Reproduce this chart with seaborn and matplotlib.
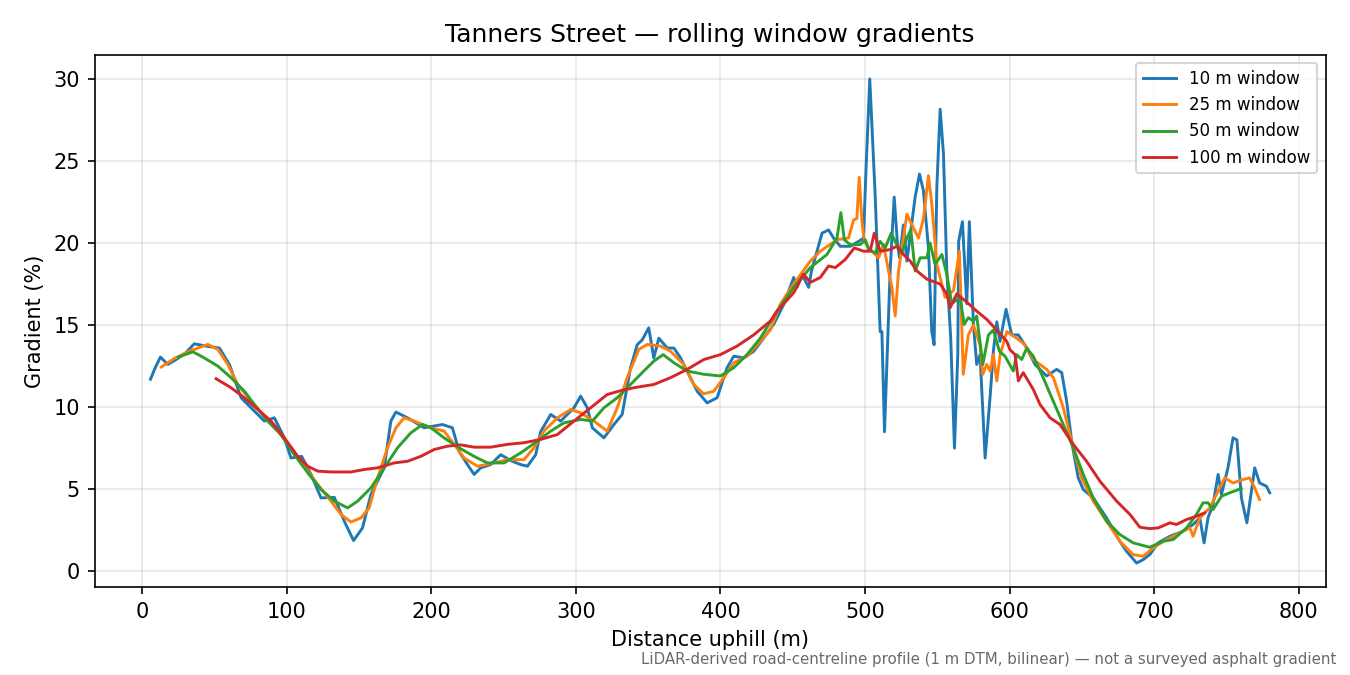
import pandas as pd
import seaborn as sns
import matplotlib.pyplot as plt

# 10 m window
d10 = [5.7, 9, 12.6, 17.7, 23.5, 30, 36, 45.4, 53.4, 60.3, 68.4, 76.5, 84.5, 91.4, 98.3,
       102.9, 110.3, 116.8, 123.7, 132.9, 139.8, 146.2, 152.4, 158.2, 167.4, 172, 175.5,
       183.5, 195, 207.7, 214.6, 219.2, 225, 229.6, 234.2, 241, 248, 256, 261.8, 266.5,
       272.2, 275.6, 282.6, 289.5, 298.7, 303.3, 307.9, 311.4, 319.4, 326.3, 332, 337.8,
       342.4, 345.9, 350.4, 353.9, 357.4, 363.2, 367.8, 372.4, 378.1, 383.9, 390.8, 397.7,
       404.6, 409.2, 416.1, 423, 429.9, 436.8, 444, 450.7, 453, 456.4, 461, 463, 470.3,
       474.8, 478.3, 482.9, 489.8, 495.6, 499, 500.5, 503.3, 507.1, 510.5, 511.7, 513.5,
       517.4, 520.2, 522.5, 523.9, 526.6, 529, 534.7, 537.7, 540.4, 543.9, 546.2, 547.8,
       549.7, 552, 554.3, 556.6, 559.3, 561.9, 564.2, 564.8, 567.4, 570.4, 572.2, 575,
       577.3, 579.6, 583.1, 586.5, 588.8, 591.2, 593.4, 597.6, 601.5, 606.1, 611.9, 617.6,
       625.7, 632.6, 636.1, 639.5, 643, 647.5, 651, 657.9, 667.1, 676.3, 680.9, 687.9,
       692.5, 697, 702.8, 710.9, 720.1, 727, 731.6, 734.6, 737.3, 740.8, 744.3, 746.6,
       751.1, 754.6, 757.3, 760.4, 764.2, 769.6, 773, 777.7, 780]
g10 = [11.7, 12.4, 13.05, 12.6, 12.9, 13.3, 13.86, 13.7, 13.6, 12.6, 10.57, 9.86, 9.15, 9.35,
       8.13, 6.9, 7.0, 5.9, 4.47, 4.5, 3.05, 1.87, 2.64, 4.68, 6.3, 9.15, 9.7, 9.35, 8.74,
       8.94, 8.74, 7.3, 6.5, 5.9, 6.3, 6.5, 7.1, 6.7, 6.5, 6.4, 7.1, 8.5, 9.55, 9.15, 9.96,
       10.67, 9.96, 8.74, 8.13, 8.94, 9.55, 12.4, 13.8, 14.1, 14.83, 13.0, 14.2, 13.6, 13.6,
       13.0, 12.0, 10.97, 10.26, 10.57, 12.4, 13.1, 13.0, 13.4, 14.2, 15.04, 16.3, 17.9,
       17.3, 18.1, 17.3, 18.3, 20.6, 20.8, 20.3, 19.8, 19.8, 20.1, 20.3, 24.0, 30.0, 22.8,
       14.6, 14.6, 8.5, 18.3, 22.8, 19.9, 19.1, 21.1, 18.9, 22.8, 24.2, 23.2, 19.7, 14.6,
       13.8, 23.4, 28.15, 25.4, 18.3, 14.2, 7.5, 13.2, 20.1, 21.3, 16.3, 21.3, 15.04, 12.6,
       13.2, 6.9, 10.57, 13.4, 15.2, 14.0, 15.96, 14.4, 14.4, 13.6, 12.6, 11.9, 12.3, 12.1,
       10.37, 7.9, 5.7, 4.98, 4.47, 3.25, 1.83, 1.22, 0.5, 0.71, 1.02, 1.73, 2.13, 2.44,
       2.85, 3.25, 1.73, 3.25, 4.07, 5.9, 4.68, 6.3, 8.13, 8.0, 4.47, 2.95, 6.3, 5.38, 5.18,
       4.78]

# 25 m window
d25 = [13.1, 22.3, 32.7, 45.4, 52.3, 59.2, 66.1, 75.3, 84.5, 93.7, 102.9, 112.1, 121.4,
       130.6, 137.5, 144.4, 151.3, 157, 162.8, 169.7, 175.5, 181.2, 188.1, 199.7, 208.8,
       215.8, 222.7, 231.9, 243.4, 252.6, 264.1, 271, 277.9, 287.2, 296.4, 303.3, 312.5,
       321.7, 328.6, 335.5, 343.6, 349.4, 358.5, 365.4, 374.6, 381.5, 388.4, 395.4, 402.3,
       409.2, 418.4, 427.6, 434.5, 441.4, 450.6, 462.2, 469.1, 480.6, 488.6, 492.1, 494.4,
       496, 497.9, 499.5, 503.6, 509.4, 512.8, 516.3, 518.6, 520.9, 523.2, 529, 533.6, 537,
       540.5, 543.9, 546.2, 549.7, 555.4, 561.2, 565.3, 568, 571.5, 575, 579.6, 581.5,
       584.2, 586.5, 588.8, 591.2, 593.5, 598.1, 604.9, 610.7, 616.4, 625.7, 630.3, 637.2,
       644.1, 649.9, 657.9, 667.1, 676.3, 685.5, 692.5, 699.3, 708.5, 717.8, 724.7, 727,
       731.6, 738.5, 744.3, 748.9, 754.6, 761.5, 766.1, 769.6, 773]
g25 = [12.44, 12.97, 13.41, 13.82, 13.52, 12.6, 11.38, 10.37, 9.45, 8.54, 7.52, 6.4, 5.29,
       4.27, 3.46, 3.0, 3.25, 3.86, 5.69, 7.52, 8.74, 9.35, 9.15, 8.74, 8.54, 7.73, 6.9, 6.4,
       6.6, 6.8, 6.8, 7.52, 8.54, 9.35, 9.86, 9.65, 9.15, 8.54, 9.96, 11.79, 13.52, 13.82,
       13.72, 13.41, 12.6, 11.38, 10.81, 10.97, 11.79, 12.7, 13.1, 14.0, 14.7, 16.26, 17.5,
       18.9, 19.5, 20.2, 20.3, 21.4, 21.5, 24.0, 21.3, 20.1, 19.6, 19.1, 19.9, 18.3, 17.3,
       15.55, 18.3, 21.75, 20.9, 20.3, 21.5, 24.1, 22.4, 18.7, 16.7, 17.1, 19.5, 12.0, 14.4,
       15.0, 13.8, 12.0, 12.6, 12.2, 13.2, 11.6, 13.2, 14.6, 14.2, 13.8, 12.9, 12.3, 11.8,
       9.96, 7.52, 5.69, 4.27, 3.05, 1.83, 1.02, 0.91, 1.42, 1.93, 2.34, 2.64, 2.13, 3.25,
       3.86, 4.88, 5.69, 5.38, 5.59, 5.69, 5.08, 4.37]

# 50 m window
d50 = [25, 35, 41.9, 52.3, 61.5, 70.7, 77.6, 86.8, 96, 105.2, 114.5, 123.7, 132.9, 142.1,
       149, 158.2, 167.4, 176.6, 185.8, 193.9, 199.7, 208.8, 219.2, 229.6, 238.8, 250.3,
       261.8, 273.4, 282.6, 291.7, 303.3, 311.4, 319.4, 328.6, 337.8, 347, 353.9, 360.4,
       367.8, 377, 388.5, 400, 409.2, 418.4, 427.6, 439.1, 450.7, 462.2, 473.7, 480.6,
       483.3, 485.7, 489.8, 496.7, 500.2, 502.5, 507.1, 510.5, 514, 518.1, 522, 525.5, 529,
       531.7, 534.7, 538.2, 542.8, 545, 548.5, 553.2, 556.6, 560, 565.8, 568.6, 571.5, 575,
       577.3, 581.5, 585.4, 588.8, 593, 596.9, 602.6, 604.9, 608.4, 611.9, 616.4, 623.3,
       630.2, 637.2, 644.1, 651, 657.9, 667.1, 676.3, 685.5, 697, 706.3, 713.2, 722.4,
       729.3, 733.9, 737.3, 740.8, 746.6, 752.3, 760.4]
g50 = [13.05, 13.37, 13.05, 12.5, 11.79, 10.97, 10.16, 9.15, 8.33, 7.11, 6.0, 4.98, 4.27,
       3.86, 4.27, 5.08, 6.3, 7.52, 8.43, 8.94, 8.74, 8.13, 7.52, 7.0, 6.6, 6.6, 7.21, 7.93,
       8.54, 9.04, 9.25, 9.15, 9.96, 10.57, 11.38, 12.2, 12.8, 13.2, 12.7, 12.2, 12.0, 11.9,
       12.4, 13.2, 14.2, 15.85, 17.3, 18.5, 19.3, 20.3, 21.85, 20.2, 19.9, 19.9, 20.2, 19.6,
       19.4, 20.1, 19.7, 20.6, 19.9, 19.4, 20.3, 20.8, 18.3, 19.1, 19.1, 20.0, 18.7, 19.3,
       18.1, 16.3, 16.7, 15.04, 15.45, 15.24, 15.55, 12.6, 14.4, 14.7, 13.4, 13.1, 12.2,
       13.2, 12.9, 13.6, 13.1, 11.79, 10.37, 8.94, 7.52, 5.9, 4.47, 3.05, 2.24, 1.73, 1.46,
       1.83, 1.93, 2.64, 3.46, 4.17, 4.17, 3.76, 4.57, 4.78, 5.04]

# 100 m window
d100 = [51.1, 61.5, 70.7, 79.9, 89.1, 98.3, 107.6, 114.5, 121.4, 130.6, 144.4, 153.6, 162.8,
        174.3, 183.5, 192.7, 202, 211.2, 220.4, 229.6, 241, 252.6, 264.1, 275.6, 287.2,
        298.7, 310.2, 321.7, 330.9, 340.1, 353.9, 365.4, 377, 388.5, 400, 411.5, 423, 434.5,
        439.1, 450.7, 457.5, 462.2, 469.1, 474.8, 479.5, 486.4, 492.6, 499, 503.6, 506.4,
        510.5, 517.4, 522, 526.6, 531.3, 535.9, 542.8, 552, 556.6, 558.9, 563.5, 570.4,
        577.3, 584.2, 591.1, 598.1, 600.3, 603.8, 606.1, 609.5, 616.4, 621.1, 628, 634.9,
        644.1, 653.3, 662.5, 674.1, 683.3, 690.2, 697, 702.8, 710.9, 715.5, 722.4, 729.3,
        735]
g100 = [11.73, 11.18, 10.57, 9.86, 9.15, 8.13, 7.0, 6.4, 6.1, 6.05, 6.05, 6.2, 6.3, 6.6,
        6.7, 7.0, 7.42, 7.62, 7.7, 7.56, 7.56, 7.73, 7.83, 8.03, 8.33, 9.15, 9.96, 10.77,
        11.0, 11.18, 11.38, 11.79, 12.3, 12.9, 13.2, 13.72, 14.4, 15.24, 15.85, 16.97, 18.1,
        17.6, 17.9, 18.6, 18.5, 19.0, 19.7, 19.5, 19.5, 20.6, 19.5, 19.6, 19.8, 19.3, 18.9,
        18.3, 17.8, 17.5, 16.9, 16.06, 16.9, 16.4, 15.85, 15.35, 14.7, 14.0, 13.5, 13.2,
        11.6, 12.1, 11.08, 10.16, 9.35, 8.94, 7.73, 6.7, 5.49, 4.27, 3.46, 2.68, 2.6, 2.64,
        2.95, 2.85, 3.15, 3.35, 3.56]

windows = ["10 m window", "25 m window", "50 m window", "100 m window"]

if __name__ == "__main__":
    frames = []
    for name, d, g in zip(windows, [d10, d25, d50, d100], [g10, g25, g50, g100]):
        frames.append(pd.DataFrame({"dist": d, "grad": g, "window": name}))
    df = pd.concat(frames, ignore_index=True)

    fig, ax = plt.subplots(figsize=(9, 4.5), dpi=150)
    sns.lineplot(data=df, x="dist", y="grad", hue="window", hue_order=windows,
                 palette=sns.color_palette("tab10", 4), estimator=None, sort=True,
                 linewidth=1.4, ax=ax)

    ax.set_title("Tanners Street — rolling window gradients")
    ax.set_xlabel("Distance uphill (m)")
    ax.set_ylabel("Gradient (%)")
    ax.grid(alpha=0.3)
    ax.legend(loc="upper right", fontsize=8)

    fig.text(0.99, 0.012, "LiDAR-derived road-centreline profile (1 m DTM, bilinear) — not a surveyed asphalt gradient",
             ha="right", va="bottom", fontsize=7.2, color="dimgray")
    fig.subplots_adjust(left=0.07, right=0.982, top=0.919, bottom=0.13)
    fig.savefig("out.png")
